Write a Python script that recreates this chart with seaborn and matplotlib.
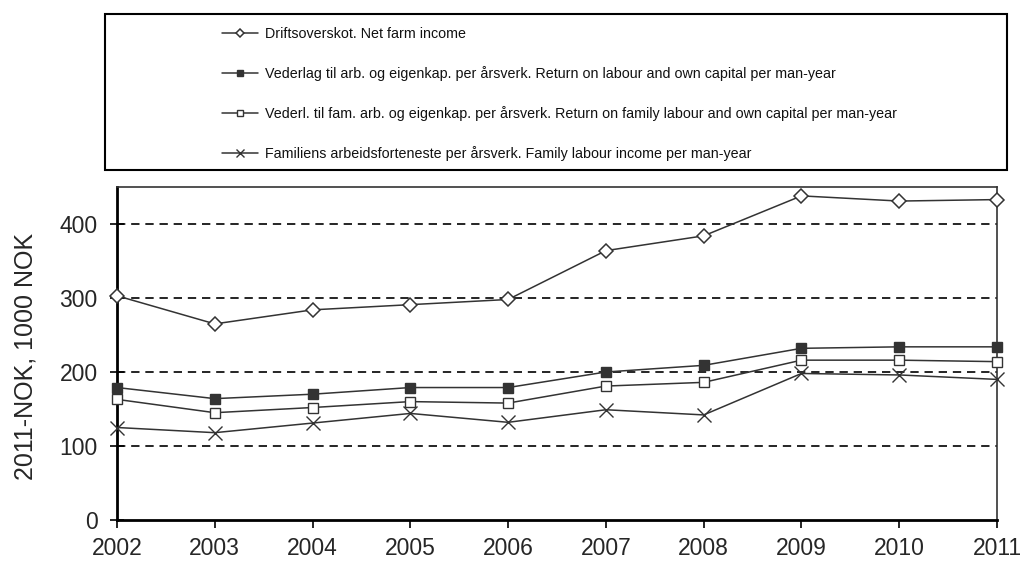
import matplotlib
matplotlib.use("Agg")
import matplotlib.pyplot as plt
import seaborn as sns
import pandas as pd
from matplotlib.patches import Rectangle

years = [2002, 2003, 2004, 2005, 2006, 2007, 2008, 2009, 2010, 2011]
net_farm_income = [303, 265, 284, 291, 298, 364, 384, 438, 431, 433]
return_labour_capital = [179, 164, 170, 179, 179, 200, 209, 232, 234, 234]
return_family_labour_capital = [163, 145, 152, 160, 158, 181, 186, 216, 216, 214]
family_labour_income = [125, 118, 131, 144, 132, 149, 142, 198, 196, 190]

labels = [
    "Driftsoverskot. Net farm income",
    "Vederlag til arb. og eigenkap. per årsverk. Return on labour and own capital per man-year",
    "Vederl. til fam. arb. og eigenkap. per årsverk. Return on family labour and own capital per man-year",
    "Familiens arbeidsforteneste per årsverk. Family labour income per man-year",
]
series = [net_farm_income, return_labour_capital, return_family_labour_capital, family_labour_income]
ylabel = "2011-NOK, 1000 NOK"

sns.set_theme(style="white")
plt.rcParams["font.family"] = ["Liberation Sans", "DejaVu Sans"]

fig = plt.figure(figsize=(10.26, 5.65), dpi=100)
ax = fig.add_axes([117 / 1026, 1 - 520 / 565, (997 - 117) / 1026, (520 - 187) / 565])

col = "#333333"
styles = [
    dict(marker="D", markersize=7.5, markerfacecolor="white", markeredgecolor=col, markeredgewidth=1.1),
    dict(marker="s", markersize=7.5, markerfacecolor=col, markeredgecolor=col, markeredgewidth=1.0),
    dict(marker="s", markersize=7, markerfacecolor="white", markeredgecolor=col, markeredgewidth=1.0),
    dict(marker="x", markersize=10, markeredgecolor=col, markeredgewidth=1.0),
]

for vals, lab, st in zip(series, labels, styles):
    df = pd.DataFrame({"year": years, "value": vals})
    sns.lineplot(data=df, x="year", y="value", ax=ax, color=col, linewidth=1.1,
                 label=lab, clip_on=False, zorder=5, **st)

ax.set_xlim(2002, 2011)
ax.set_ylim(0, 450)
ax.set_xticks(years)
ax.set_yticks([0, 100, 200, 300, 400])
ax.set_xlabel("")
ax.set_ylabel(ylabel, fontsize=18)
ax.yaxis.set_label_coords(-0.09, 0.49)
ax.tick_params(axis="x", labelsize=16.5, direction="out", length=6, width=1.2, color="black", pad=6, bottom=True)
ax.tick_params(axis="y", labelsize=16.5, direction="inout", length=10, width=1.2, color="black", pad=9, left=True)

for y in [100, 200, 300, 400]:
    ax.axhline(y, color="black", linestyle=(0, (5, 3.5)), linewidth=1.2, zorder=1)

ax.spines["left"].set_linewidth(2)
ax.spines["bottom"].set_linewidth(2)
ax.spines["left"].set_color("black")
ax.spines["bottom"].set_color("black")
ax.spines["top"].set_linewidth(1.2)
ax.spines["right"].set_linewidth(1.2)
ax.spines["top"].set_color("#333333")
ax.spines["right"].set_color("#333333")

handles, labs = ax.get_legend_handles_labels()
ax.get_legend().remove()

# legend box
fig.patches.append(Rectangle((105 / 1026, 1 - 170 / 565), (1007 - 105) / 1026, (170 - 14) / 565,
                             transform=fig.transFigure, fill=False, edgecolor="black", linewidth=1.5))

leg = fig.legend(handles, labs, loc="upper left", bbox_to_anchor=(222 / 1026, 1 - 27 / 565),
                 frameon=False, fontsize=10.3, markerscale=0.6, handlelength=2.5,
                 handletextpad=0.5, labelspacing=1.75, borderpad=0, borderaxespad=0)
for t in leg.get_texts():
    t.set_color("#111111")

fig.savefig("out.png", dpi=100)
